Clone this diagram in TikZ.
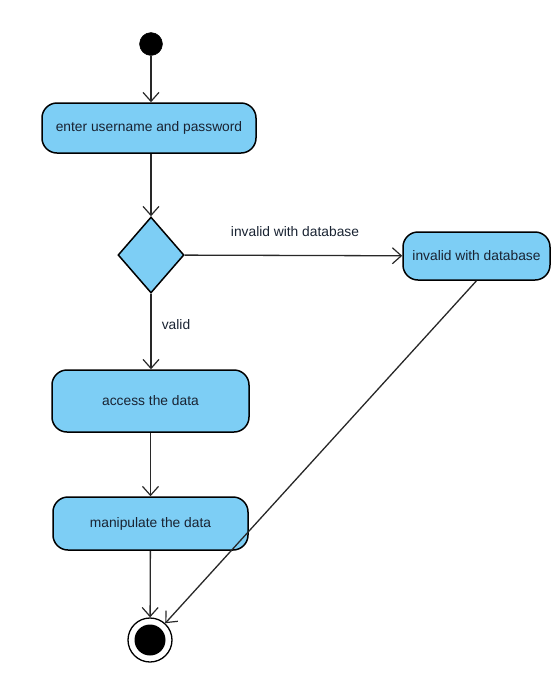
\documentclass[tikz,border=0pt]{standalone}
\usepackage{fontspec}
\setmainfont{Liberation Sans}
\usetikzlibrary{arrows.meta,shapes.geometric}
\definecolor{actfill}{RGB}{125,206,245}
\definecolor{txt}{RGB}{25,35,50}
\definecolor{edge}{RGB}{40,40,40}
\tikzset{
  act/.style={draw=black, line width=1.5pt, fill=actfill, rounded corners=15pt, text=txt, font=\fontsize{13.8}{16}\selectfont, inner sep=0pt},
  decision/.style={draw=black, line width=1.5pt, fill=actfill, diamond, inner sep=0pt, minimum width=66pt, minimum height=76pt},
  flow/.style={draw=edge, line width=1.3pt, -{Straight Barb[length=9pt,width=16pt,line width=1.2pt]}},
  lbl/.style={text=txt, font=\fontsize{13.8}{16}\selectfont}
}
\begin{document}
\begin{tikzpicture}[x=1pt,y=-1pt]
\useasboundingbox (0,0) rectangle (555,689);
\node[circle, fill=black, draw=black, minimum size=23pt, inner sep=0pt] (start) at (151,44) {};
\node[act, minimum width=214pt, minimum height=50pt] (enter) at (149,128) {enter username and password};
\node[decision] (dec) at (151,255) {};
\node[act, minimum width=147pt, minimum height=48pt] (invalid) at (476.5,256) {invalid with database};
\node[act, minimum width=197pt, minimum height=62pt] (access) at (150.5,401) {access the data};
\node[act, minimum width=195pt, minimum height=53pt] (manip) at (150.5,523.5) {manipulate the data};
\node[circle, draw=black, line width=1.3pt, fill=white, minimum size=44pt, inner sep=0pt] (final) at (150,640) {};
\node[circle, fill=black, minimum size=31pt, inner sep=0pt] (finalin) at (150,640) {};
\node[lbl] (lblinv) at (295,232) {invalid with database};
\node[lbl] (lblvalid) at (176,325) {valid};
\draw[flow] (start) -- (enter.north -| start);
\draw[flow] (enter.south -| dec) -- (dec);
\draw[flow] (dec) -- (invalid);
\draw[flow] (dec.south) -- (access.north -| dec.south);
\draw[flow] (access) -- (manip);
\draw[flow] (manip) -- (final);
\draw[flow] (invalid.south) -- (final);
\end{tikzpicture}
\end{document}
